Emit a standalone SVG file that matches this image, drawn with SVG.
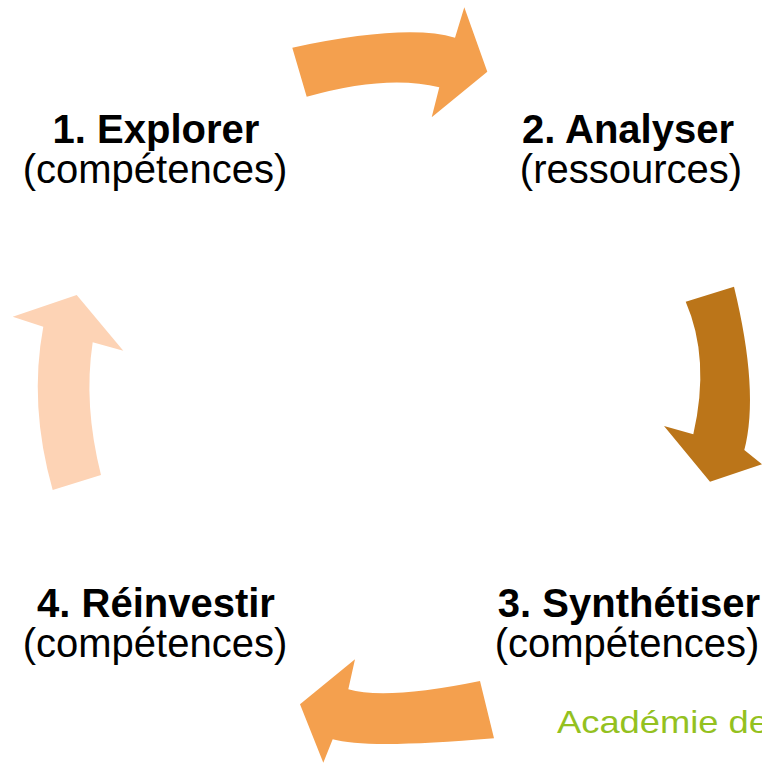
<svg xmlns="http://www.w3.org/2000/svg" width="762" height="763" viewBox="0 0 762 763">
<style>
.t{font-family:"Liberation Sans",Arial,sans-serif;font-size:40px;fill:#000;text-anchor:middle}
.b{font-weight:bold}
.a1{fill:#F4A04E}
.a2{fill:#BB7519}
.a4{fill:#FDD3B5}
.ac{font-family:"Liberation Sans",Arial,sans-serif;font-size:32px;fill:#94C11F}
</style>
<rect width="762" height="763" fill="#fff"/>
<g id="connectors">
<path class="a1" d="M292.3 47.7 Q406.3 23.3 455 37.7 L464.3 7.3 L487.3 71.7 L431.7 117.3 L439.3 87.3 Q387 74 306.7 96.7 Z"/>
<path class="a2" d="M685.7 301.7 L734 286.7 Q759.5 391.7 744.3 450 L762 464.3 L710 481.7 L664 426 L693.3 434.3 Q710.5 358.6 685.7 301.7 Z"/>
<path class="a1" d="M480 681 L494 738.3 Q366.7 749.2 332.7 739.3 L323.3 762.7 L300 704.3 L355 659.3 L348.3 689.3 Q385.9 700.3 480 681 Z"/>
<path class="a4" d="M52.7 490 L101 475 Q83.2 404.8 92.7 342.3 L123.3 350.7 L76.7 295 L12.7 316.7 L43.3 326.7 Q28.6 405 52.7 490 Z"/>
</g>
<g id="node1">
<text class="t b" x="156" y="143">1. Explorer</text>
<text class="t" x="155" y="183">(compétences)</text>
</g>
<g id="node2">
<text class="t b" x="628" y="143">2. Analyser</text>
<text class="t" x="631" y="183">(ressources)</text>
</g>
<g id="node3">
<text class="t b" x="629" y="617">3. Synthétiser</text>
<text class="t" x="627" y="657">(compétences)</text>
</g>
<g id="node4">
<text class="t b" x="156" y="617">4. Réinvestir</text>
<text class="t" x="155" y="657">(compétences)</text>
</g>
<text class="ac" x="557" y="733" textLength="212" lengthAdjust="spacingAndGlyphs">Académie de</text>
</svg>
